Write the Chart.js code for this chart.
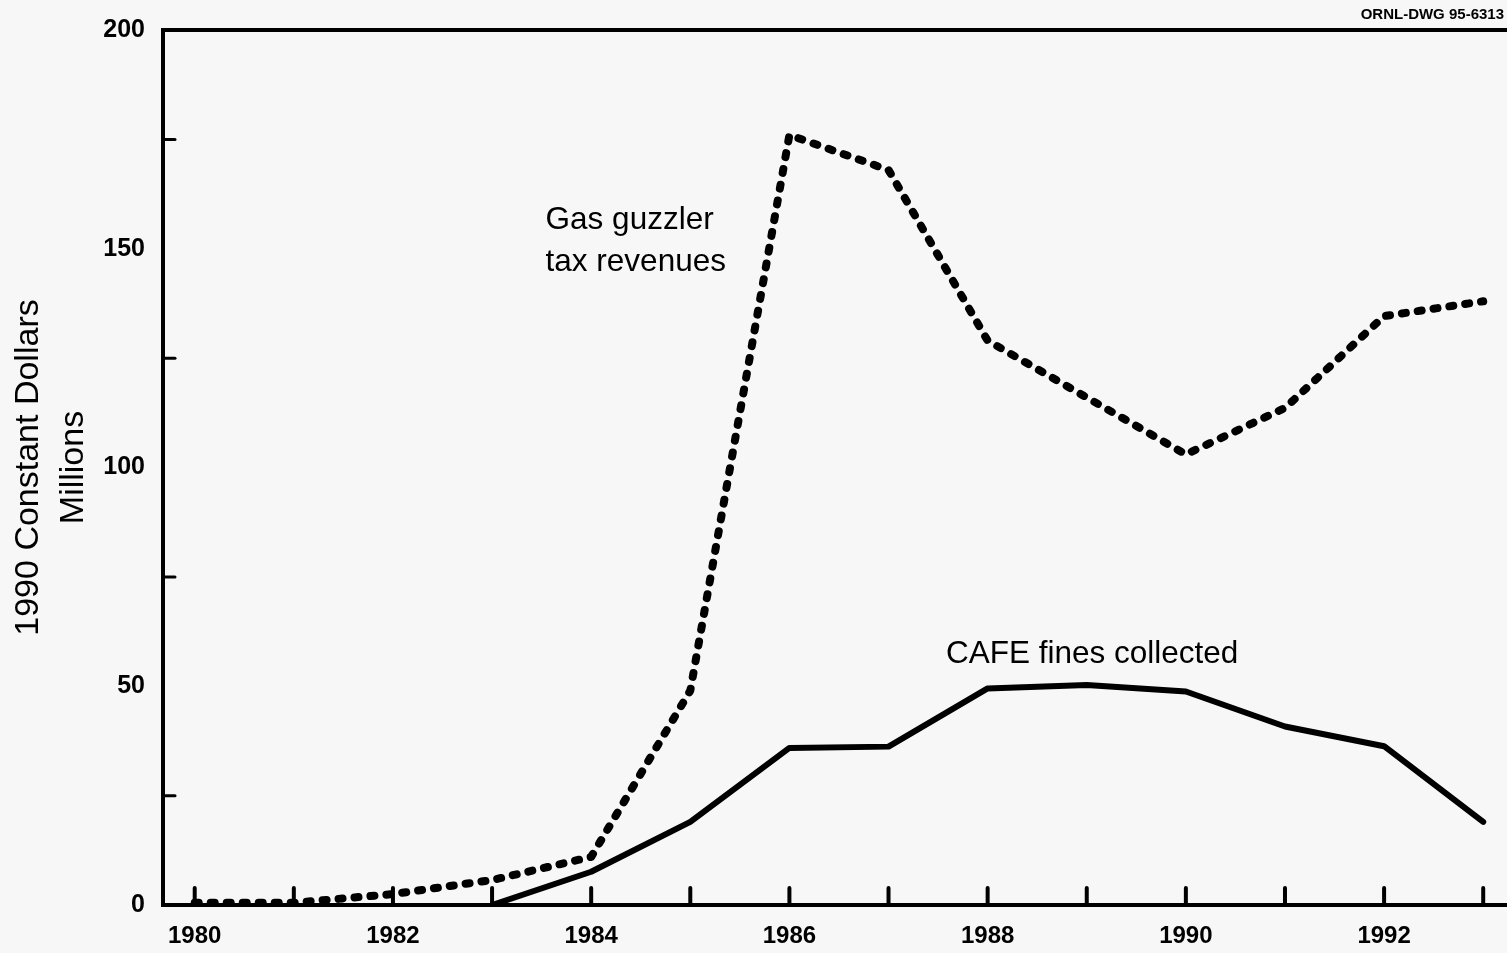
<!DOCTYPE html>
<html>
<head>
<meta charset="utf-8">
<script src="https://cdn.jsdelivr.net/npm/chart.js@4.4.1/dist/chart.umd.min.js"></script>
<style>
  html, body { margin: 0; padding: 0; background: #f7f7f7; }
  #wrap { width: 1507px; height: 953px; position: relative; }
</style>
</head>
<body>
<div id="wrap"><canvas id="myChart" width="1507" height="953"></canvas></div>
<script>
// yearly values, 1990 constant dollars (millions)
var years = [1980, 1981, 1982, 1983, 1984, 1985, 1986, 1987, 1988, 1989, 1990, 1991, 1992, 1993];
var guzzlerTax = [0.5, 0.5, 2.5, 5.7, 11, 49, 176, 168, 129, 116, 103, 113.6, 134.6, 138];
var cafeFines = [null, null, null, 0, 7.6, 19, 35.9, 36.2, 49.5, 50.3, 48.8, 40.8, 36.3, 19];
var yTickLabels = [0, 50, 100, 150, 200];
var xTickLabels = [1980, 1982, 1984, 1986, 1988, 1990, 1992];

function toPoints(vals) {
    return years.map(function (y, i) { return { x: y, y: vals[i] }; });
}

// frame line along the top plus the inward tick marks on both axes
var framePlugin = {
    id: 'frame',
    afterDatasetsDraw: function (chart) {
        var ctx = chart.ctx;
        var area = chart.chartArea;
        var xs = chart.scales.x, ys = chart.scales.y;
        ctx.save();
        ctx.strokeStyle = '#000';
        ctx.lineWidth = 4;
        ctx.beginPath();
        ctx.moveTo(area.left - 2, area.top);
        ctx.lineTo(area.right, area.top);
        ctx.stroke();

        ctx.lineWidth = 4;
        ctx.lineCap = 'round';
        years.forEach(function (yr) {
            var px = xs.getPixelForValue(yr);
            ctx.beginPath();
            ctx.moveTo(px, area.bottom);
            ctx.lineTo(px, area.bottom - 17);
            ctx.stroke();
        });
        ctx.lineWidth = 3;
        [25, 75, 125, 175].forEach(function (v) {
            var py = ys.getPixelForValue(v);
            ctx.beginPath();
            ctx.moveTo(area.left, py);
            ctx.lineTo(area.left + 12, py);
            ctx.stroke();
        });

        // series labels
        ctx.fillStyle = '#000';
        ctx.font = '31.5px "Liberation Sans", Arial, sans-serif';
        ctx.textBaseline = 'middle';
        ctx.textAlign = 'left';
        ctx.fillText('Gas guzzler', xs.getPixelForValue(1983.54), ys.getPixelForValue(156.6));
        ctx.fillText('tax revenues', xs.getPixelForValue(1983.54), ys.getPixelForValue(146.8));
        ctx.fillText('CAFE fines collected', xs.getPixelForValue(1987.58), ys.getPixelForValue(57.4));

        // drawing number, top right
        ctx.font = 'bold 15px "Liberation Sans", Arial, sans-serif';
        ctx.textAlign = 'right';
        ctx.textBaseline = 'alphabetic';
        ctx.fillText('ORNL-DWG 95-6313', 1504, 19);
        ctx.restore();
    }
};

function chart() {
    var ctx = document.getElementById('myChart').getContext('2d');

    new Chart(ctx, {
        type: 'line',
        data: {
            datasets: [{
                label: 'Gas guzzler tax revenues',
                data: toPoints(guzzlerTax),
                borderColor: '#000',
                borderWidth: 8,
                borderDash: [4, 12],
                borderCapStyle: 'round',
                borderJoinStyle: 'round',
                pointRadius: 0,
                tension: 0
            }, {
                label: 'CAFE fines collected',
                data: toPoints(cafeFines),
                borderColor: '#000',
                borderWidth: 6,
                borderJoinStyle: 'round',
                borderCapStyle: 'round',
                pointRadius: 0,
                tension: 0,
                spanGaps: false
            }]
        },
        options: {
            responsive: false,
            animation: false,
            layout: { padding: { top: 30, right: 0, left: 0, bottom: 0 } },
            plugins: {
                legend: { display: false },
                tooltip: { enabled: false }
            },
            scales: {
                x: {
                    type: 'linear',
                    min: 1979.68,
                    max: 1993.24,
                    afterBuildTicks: function (scale) {
                        scale.ticks = xTickLabels.map(function (v) { return { value: v }; });
                    },
                    afterFit: function (scale) {
                        scale.height = 48;
                        scale.paddingLeft = 0;
                        scale.paddingRight = 0;
                    },
                    grid: { display: false, drawTicks: false },
                    border: { display: true, color: '#000', width: 4 },
                    ticks: {
                        color: '#000',
                        padding: 17,
                        maxRotation: 0,
                        autoSkip: false,
                        font: { family: '"Liberation Sans", Arial, sans-serif', size: 24, weight: 'bold' },
                        callback: function (v) { return String(v); }
                    }
                },
                y: {
                    min: 0,
                    max: 200,
                    afterBuildTicks: function (scale) {
                        scale.ticks = yTickLabels.map(function (v) { return { value: v }; });
                    },
                    afterFit: function (scale) {
                        scale.width = 163;
                        scale.paddingTop = 0;
                        scale.paddingBottom = 0;
                    },
                    grid: { display: false, drawTicks: false },
                    border: { display: true, color: '#000', width: 4 },
                    title: {
                        display: true,
                        text: ['1990 Constant Dollars', 'Millions'],
                        color: '#000',
                        font: { family: '"Liberation Sans", Arial, sans-serif', size: 34, lineHeight: 1.32 },
                        padding: { top: 6, bottom: 0 }
                    },
                    ticks: {
                        color: '#000',
                        padding: 18,
                        font: { family: '"Liberation Sans", Arial, sans-serif', size: 25, weight: 'bold' }
                    }
                }
            }
        },
        plugins: [framePlugin]
    });
}
chart();
</script>
</body>
</html>
